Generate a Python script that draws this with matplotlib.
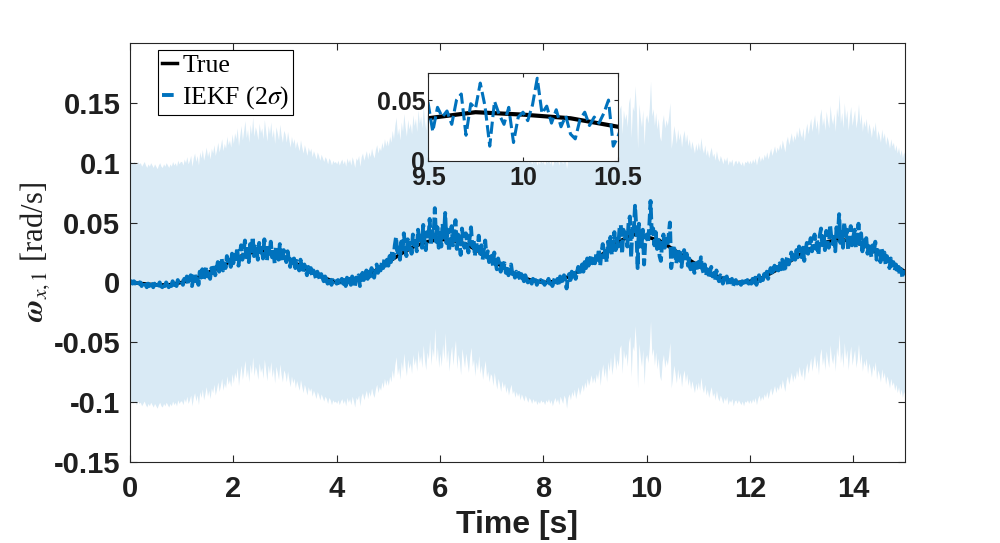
import numpy as np
import matplotlib
matplotlib.use("Agg")
import matplotlib.pyplot as plt

plt.rcParams['mathtext.fontset'] = 'stix'

# true angular rate, sampled every 0.25 s from 0 to 15 s
t_true = np.arange(61) * 0.25
w_true = [0.000, -0.001, -0.002, -0.002, 0.000, 0.003, 0.008, 0.013, 0.019, 0.024,
          0.026, 0.025, 0.021, 0.015, 0.009, 0.004, 0.000, 0.001, 0.004, 0.010,
          0.017, 0.024, 0.030, 0.034, 0.036, 0.035, 0.032, 0.026, 0.019, 0.012,
          0.006, 0.002, 0.000, 0.001, 0.005, 0.011, 0.019, 0.027, 0.035, 0.040,
          0.038, 0.035, 0.028, 0.021, 0.014, 0.007, 0.003, 0.000, 0.001, 0.004,
          0.010, 0.017, 0.024, 0.030, 0.034, 0.036, 0.034, 0.030, 0.024, 0.016,
          0.009]

# IEKF estimate, sampled every 0.025 s (four rows per second)
w_est = [
    # 0 s
    0.000, 0.001, -0.001, 0.001, 0.000, -0.002, 0.001, -0.001, 0.000, -0.003,
    -0.001, 0.001, -0.002, -0.004, -0.001, -0.003, 0.000, -0.002, -0.004, -0.001,
    -0.003, -0.005, -0.002, 0.000, -0.003, -0.004, -0.001, -0.003, 0.000, -0.002,
    -0.004, -0.001, -0.003, 0.001, -0.002, 0.000, -0.003, 0.002, -0.001, 0.001,
    # 1 s
    0.001, -0.002, 0.003, 0.000, 0.005, -0.001, 0.002, 0.006, -0.003, 0.004,
    0.008, 0.001, 0.006, -0.002, 0.009, 0.004, 0.011, 0.002, 0.007, 0.013,
    0.005, 0.010, 0.003, 0.012, 0.008, 0.015, 0.006, 0.011, 0.017, 0.009,
    0.014, 0.020, 0.010, 0.016, 0.012, 0.022, 0.015, 0.019, 0.013, 0.024,
    # 2 s
    0.016, 0.025, 0.020, 0.029, 0.014, 0.023, 0.031, 0.019, 0.027, 0.035,
    0.021, 0.028, 0.017, 0.032, 0.024, 0.038, 0.022, 0.030, 0.026, 0.019,
    0.033, 0.025, 0.029, 0.020, 0.036, 0.027, 0.018, 0.031, 0.024, 0.034,
    0.021, 0.028, 0.016, 0.030, 0.025, 0.019, 0.032, 0.023, 0.017, 0.027,
    # 3 s
    0.024, 0.017, 0.026, 0.019, 0.013, 0.022, 0.016, 0.020, 0.012, 0.018,
    0.014, 0.010, 0.019, 0.013, 0.008, 0.015, 0.011, 0.006, 0.013, 0.009,
    0.012, 0.005, 0.010, 0.007, 0.003, 0.009, 0.006, 0.002, 0.007, 0.004,
    0.001, 0.005, 0.003, -0.001, 0.004, 0.002, -0.002, 0.002, 0.000, 0.001,
    # 4 s
    -0.001, 0.002, -0.002, 0.001, 0.003, -0.001, 0.002, -0.003, 0.004, 0.000,
    0.003, -0.002, 0.005, 0.001, -0.004, 0.004, 0.002, 0.006, -0.003, 0.005,
    0.008, 0.002, 0.006, 0.010, 0.003, 0.009, 0.005, 0.012, 0.007, 0.004,
    0.011, 0.015, 0.008, 0.013, 0.010, 0.017, 0.012, 0.020, 0.014, 0.019,
    # 5 s
    0.014, 0.022, 0.017, 0.027, 0.020, 0.031, 0.038, 0.023, 0.029, 0.019,
    0.034, 0.026, 0.041, 0.030, 0.022, 0.036, 0.028, 0.033, 0.024, 0.040,
    0.031, 0.037, 0.026, 0.044, 0.033, 0.039, 0.029, 0.048, 0.035, 0.027,
    0.042, 0.036, 0.053, 0.031, 0.045, 0.038, 0.062, 0.034, 0.046, 0.029,
    # 6 s
    0.041, 0.030, 0.049, 0.036, 0.058, 0.033, 0.044, 0.026, 0.039, 0.047,
    0.031, 0.043, 0.052, 0.028, 0.040, 0.034, 0.023, 0.045, 0.037, 0.029,
    0.041, 0.033, 0.025, 0.038, 0.046, 0.030, 0.036, 0.022, 0.034, 0.027,
    0.039, 0.024, 0.031, 0.019, 0.028, 0.035, 0.021, 0.026, 0.017, 0.024,
    # 7 s
    0.022, 0.014, 0.025, 0.017, 0.011, 0.020, 0.015, 0.009, 0.018, 0.012,
    0.016, 0.008, 0.013, 0.006, 0.011, 0.015, 0.007, 0.010, 0.004, 0.009,
    0.005, 0.008, 0.002, 0.007, 0.004, 0.001, 0.006, 0.003, 0.000, 0.004,
    0.002, -0.001, 0.003, 0.000, 0.002, -0.002, 0.001, -0.001, 0.002, 0.000,
    # 8 s
    0.001, -0.002, 0.002, 0.000, 0.003, -0.001, 0.002, -0.003, 0.001, 0.004,
    0.000, 0.003, -0.002, 0.005, 0.002, -0.001, 0.006, 0.003, -0.005, 0.004,
    0.007, 0.002, 0.009, 0.005, 0.011, 0.003, 0.008, 0.013, 0.006, 0.010,
    0.015, 0.009, 0.017, 0.012, 0.020, 0.014, 0.018, 0.023, 0.016, 0.021,
    # 9 s
    0.016, 0.024, 0.019, 0.028, 0.014, 0.025, 0.032, 0.021, 0.029, 0.017,
    0.034, 0.026, 0.038, 0.023, 0.031, 0.042, 0.027, 0.036, 0.030, 0.045,
    0.048, 0.024, 0.044, 0.036, 0.041, 0.030, 0.050, 0.055, 0.021, 0.047,
    0.043, 0.064, 0.045, 0.012, 0.049, 0.038, 0.030, 0.044, 0.015, 0.036,
    # 10 s
    0.040, 0.033, 0.046, 0.068, 0.039, 0.045, 0.031, 0.042, 0.028, 0.037,
    0.022, 0.018, 0.034, 0.040, 0.029, 0.036, 0.031, 0.039, 0.050, 0.012,
    0.020, 0.031, 0.024, 0.016, 0.028, 0.019, 0.025, 0.013, 0.022, 0.027,
    0.017, 0.024, 0.014, 0.020, 0.011, 0.018, 0.013, 0.008, 0.016, 0.010,
    # 11 s
    0.017, 0.010, 0.021, 0.012, 0.008, 0.015, 0.006, 0.011, 0.004, 0.009,
    0.013, 0.005, 0.008, 0.002, 0.010, 0.004, 0.001, 0.006, 0.003, -0.001,
    0.004, 0.001, 0.005, -0.002, 0.002, 0.000, 0.003, -0.003, 0.001, 0.002,
    -0.001, 0.002, 0.000, -0.002, 0.001, -0.003, 0.001, 0.000, 0.002, -0.001,
    # 12 s
    0.002, -0.001, 0.003, 0.000, 0.004, -0.002, 0.003, 0.006, 0.001, 0.005,
    0.002, 0.007, 0.004, 0.009, 0.003, 0.008, 0.012, 0.006, 0.010, 0.014,
    0.008, 0.013, 0.010, 0.016, 0.011, 0.019, 0.014, 0.009, 0.018, 0.022,
    0.015, 0.020, 0.025, 0.017, 0.023, 0.019, 0.027, 0.021, 0.030, 0.024,
    # 13 s
    0.021, 0.029, 0.018, 0.027, 0.033, 0.024, 0.031, 0.037, 0.026, 0.034,
    0.040, 0.028, 0.036, 0.023, 0.039, 0.045, 0.031, 0.038, 0.027, 0.043,
    0.035, 0.029, 0.048, 0.037, 0.032, 0.041, 0.026, 0.046, 0.038, 0.057,
    0.033, 0.042, 0.029, 0.050, 0.036, 0.044, 0.027, 0.039, 0.047, 0.031,
    # 14 s
    0.038, 0.044, 0.029, 0.036, 0.049, 0.032, 0.041, 0.026, 0.035, 0.030,
    0.037, 0.024, 0.033, 0.028, 0.021, 0.031, 0.026, 0.034, 0.019, 0.027,
    0.023, 0.017, 0.028, 0.020, 0.025, 0.015, 0.022, 0.018, 0.012, 0.020,
    0.014, 0.017, 0.010, 0.015, 0.008, 0.013, 0.006, 0.011, 0.004, 0.009,
    # 15 s
    0.006]
t_est = np.arange(len(w_est)) * 0.025

two_sigma = 0.1  # half width of the shaded band

xticks = [0, 2, 4, 6, 8, 10, 12, 14]
yticks = [-0.15, -0.1, -0.05, 0, 0.05, 0.1, 0.15]
ytick_labels = ['-0.15', '-0.1', '-0.05', '0', '0.05', '0.1', '0.15']

blue = '#0072BD'
band = (0.85, 0.917, 0.961)
axcol = (0.15, 0.15, 0.15)
txtcol = (0.12, 0.12, 0.12)
sans = 'Liberation Sans'
serif = 'Liberation Serif'

w_est = np.array(w_est)

fig = plt.figure(figsize=(10, 5.43), dpi=100)
ax = fig.add_axes([0.13, 0.149, 0.775, 0.772])

ax.fill_between(t_est, w_est - two_sigma, w_est + two_sigma, color=band, lw=0)
ax.plot(t_true, w_true, color='black', lw=2.5, label='True')
ax.plot(t_est, w_est, color=blue, lw=2.8, ls=(0, (3, 1)), label=r'IEKF (2$\sigma$)')

ax.set_xlim(0, 15)
ax.set_ylim(-0.15, 0.2)
ax.set_xticks(xticks)
ax.set_yticks(yticks)
ax.set_yticklabels(ytick_labels)
for lab in ax.get_xticklabels() + ax.get_yticklabels():
    lab.set_fontfamily(sans)
    lab.set_fontweight('bold')
    lab.set_fontsize(21)
ax.tick_params(direction='in', top=True, right=True, length=5, width=0.8,
               color=axcol, labelcolor=txtcol)
ax.tick_params(axis='x', pad=9)
ax.tick_params(axis='y', pad=7)
for s in ax.spines.values():
    s.set_color(axcol)
    s.set_linewidth(0.8)

ax.set_xlabel('Time [s]', fontfamily=sans, fontweight='bold', fontsize=23,
              color=txtcol, va='center')
ax.xaxis.set_label_coords(0.5, -0.149)
ax.set_ylabel(r'$\mathbfit{\omega}_{x,1}$ [rad/s]', fontfamily=serif, fontsize=22,
              color=txtcol, va='center')
ax.yaxis.set_label_coords(-0.123, 0.5)

leg = ax.legend(loc='upper left', bbox_to_anchor=(0.036, 0.983), borderaxespad=0,
                prop={'family': serif, 'size': 18.5}, handlelength=0.6,
                handletextpad=0.2, borderpad=0.15, labelspacing=0.3,
                fancybox=False, framealpha=1, edgecolor='black')
leg.get_frame().set_linewidth(0.8)

# inset zoom on 9.5 - 10.5 s
ins = fig.add_axes([0.428, 0.704, 0.19, 0.162])
ins.plot(t_true, w_true, color='black', lw=3)
ins.plot(t_est, w_est, color=blue, lw=2.2, ls=(0, (4, 1.5)))
ins.set_xlim(9.5, 10.5)
ins.set_ylim(0, 0.0725)
ins.set_xticks([9.5, 10, 10.5])
ins.set_xticklabels(['9.5', '10', '10.5'])
ins.set_yticks([0, 0.05])
ins.set_yticklabels(['0', '0.05'])
for lab in ins.get_xticklabels() + ins.get_yticklabels():
    lab.set_fontfamily(sans)
    lab.set_fontweight('bold')
    lab.set_fontsize(18)
ins.tick_params(direction='in', top=True, right=True, length=3, width=0.8,
                color=axcol, labelcolor=txtcol, pad=2)
ins.tick_params(axis='x', pad=4)
for s in ins.spines.values():
    s.set_color(axcol)
    s.set_linewidth(0.8)

fig.savefig('out.png', dpi=100)
